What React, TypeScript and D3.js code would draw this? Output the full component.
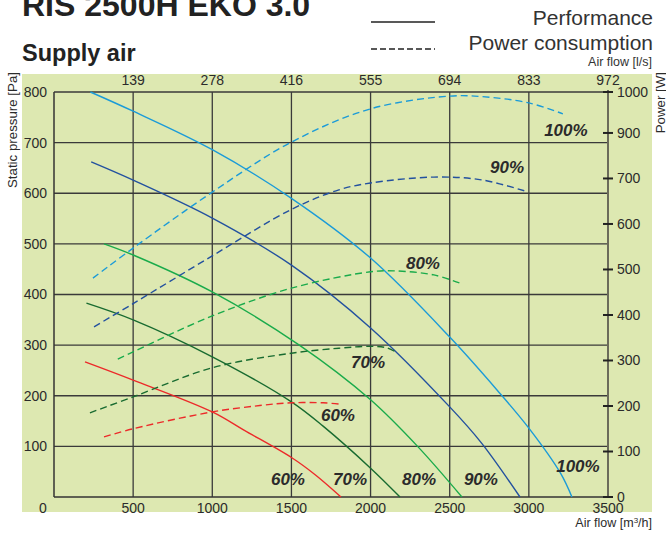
import * as d3 from "d3"

// fan performance curves: [airflow m3/h, static pressure Pa]
const speeds = ["60%", "70%", "80%", "90%", "100%"]
const colors = ["#ec2a2a", "#186b30", "#1aab4b", "#23519f", "#1b9bd8"]

const pressure60 = [[196, 267], [500, 231], [1000, 168], [1200, 132], [1500, 78], [1650, 44], [1813, 0]]
const pressure70 = [[205, 383], [500, 350], [1000, 277], [1500, 188], [1700, 140], [2000, 57], [2186, 0]]
const pressure80 = [[316, 500], [500, 478], [1000, 405], [1550, 300], [2000, 192], [2300, 99], [2577, 0]]
const pressure90 = [[235, 662], [500, 626], [1000, 551], [1500, 458], [2000, 334], [2500, 178], [2700, 107], [2944, 0]]
const pressure100 = [[230, 800], [500, 762], [1000, 686], [1500, 590], [2000, 472], [2500, 316], [2800, 211], [3000, 136], [3200, 47], [3272, 0]]

// power consumption: [airflow m3/h, power W]
const power60 = [[316, 132], [500, 150], [1000, 187], [1300, 201], [1500, 207], [1700, 207], [1806, 204]]
const power70 = [[227, 185], [500, 220], [1000, 284], [1500, 316], [1800, 327], [2000, 331], [2100, 328], [2173, 316]]
const power80 = [[403, 303], [500, 319], [1000, 398], [1500, 459], [2000, 495], [2150, 497], [2400, 488], [2565, 470]]
const power90 = [[253, 374], [500, 425], [1000, 530], [1500, 632], [1800, 675], [2000, 690], [2400, 703], [2700, 697], [2980, 672]]
const power100 = [[246, 481], [500, 547], [1000, 670], [1500, 780], [2000, 853], [2500, 881], [2700, 880], [3000, 866], [3215, 842]]

const pressureSeries = [pressure60, pressure70, pressure80, pressure90, pressure100]
const powerSeries = [power60, power70, power80, power90, power100]

// label anchors in data units
const pressureLabelAt = [[1478, 36], [1870, 36], [2306, 36], [2697, 36], [3310, 61]]
const powerLabelAt = [[1794, 180], [1984, 297], [2331, 514], [2862, 725], [3234, 807]]

const flowTicks = [500, 1000, 1500, 2000, 2500, 3000, 3500]
const flowLsLabels = ["139", "278", "416", "555", "694", "833", "972"]
const pressureTicks = [100, 200, 300, 400, 500, 600, 700, 800]
const powerTicks = [0, 100, 200, 300, 400, 500, 600, 700, 800, 890]
const powerTickLabels = ["0", "100", "200", "300", "400", "500", "600", "700", "900", "1000"]

const font = "'Liberation Sans', Arial, sans-serif"
const ink = "#2b2b2b"

export default function App() {
  const x = d3.scaleLinear().domain([0, 3500]).range([54, 608])
  const y = d3.scaleLinear().domain([0, 800]).range([497, 92])
  const yPow = d3.scaleLinear().domain([0, 890]).range([497, 92])

  const pLine = d3
    .line<number[]>()
    .x((d) => x(d[0]))
    .y((d) => y(d[1]))
    .curve(d3.curveCatmullRom.alpha(0.5))
  const wLine = d3
    .line<number[]>()
    .x((d) => x(d[0]))
    .y((d) => yPow(d[1]))
    .curve(d3.curveCatmullRom.alpha(0.5))

  const [x0, x1] = x.range()
  const [y0, y1] = y.range()

  return (
    <div style={{ position: "absolute", left: 0, top: 0 }}>
      <svg width={666} height={533} style={{ display: "block" }} fontFamily={font}>
        <rect x={0} y={0} width={666} height={533} fill="#fff" />
        <text x={22} y={16} fontSize={32} fontWeight="bold" fill="#222">RIS 2500H EKO 3.0</text>
        <text x={22} y={61} fontSize={23.5} fontWeight="bold" fill="#222">Supply air</text>

        {/* legend */}
        <line x1={371} x2={435} y1={22} y2={22} stroke="#222" strokeWidth={1.3} />
        <line x1={371} x2={435} y1={49} y2={49} stroke="#222" strokeWidth={1.3} strokeDasharray="6,3" />
        <text x={653} y={25} fontSize={21} textAnchor="end" fill="#333">Performance</text>
        <text x={653} y={50} fontSize={21} textAnchor="end" fill="#333">Power consumption</text>
        <text x={652} y={66} fontSize={12.5} textAnchor="end" fill="#333">Air flow [l/s]</text>

        <rect x={22} y={74} width={630} height={438} fill="#dde8b1" />

        {/* grid */}
        {pressureTicks.map((t) => (
          <line key={"h" + t} x1={x0} x2={x1} y1={y(t)} y2={y(t)} stroke="#3a3a3a" strokeWidth={1.3} />
        ))}
        {flowTicks.slice(0, -1).map((t) => (
          <line key={"v" + t} x1={x(t)} x2={x(t)} y1={y1} y2={y0} stroke="#3a3a3a" strokeWidth={1.3} />
        ))}
        <line x1={x0} x2={x0} y1={y1} y2={y0} stroke="#333" strokeWidth={1.5} />
        <line x1={x0} x2={x1} y1={y0} y2={y0} stroke="#333" strokeWidth={1.5} />
        <line x1={x1} x2={x1} y1={y1 - 2} y2={y0} stroke="#6b6b5a" strokeWidth={2} />

        {/* curves */}
        {pressureSeries.map((s, i) => (
          <path key={"p" + i} d={pLine(s) ?? ""} fill="none" stroke={colors[i]} strokeWidth={1.4} />
        ))}
        {powerSeries.map((s, i) => (
          <path key={"w" + i} d={wLine(s) ?? ""} fill="none" stroke={colors[i]} strokeWidth={1.4} strokeDasharray="7,4" />
        ))}

        {/* curve labels */}
        {pressureLabelAt.map((d, i) => (
          <text key={"pl" + i} x={x(d[0])} y={y(d[1])} dy="0.35em" textAnchor="middle" fontSize={17}
            fontWeight="bold" fontStyle="italic" fill={ink}>{speeds[i]}</text>
        ))}
        {powerLabelAt.map((d, i) => (
          <text key={"wl" + i} x={x(d[0])} y={yPow(d[1])} dy="0.35em" textAnchor="middle" fontSize={17}
            fontWeight="bold" fontStyle="italic" fill={ink}>{speeds[i]}</text>
        ))}

        {/* left axis */}
        {pressureTicks.map((t) => (
          <text key={"yl" + t} x={47} y={y(t)} dy="0.35em" textAnchor="end" fontSize={14} fill={ink}>{t}</text>
        ))}
        <text x={43} y={513} textAnchor="middle" fontSize={14} fill={ink}>0</text>
        <text transform="translate(17,72) rotate(-90)" textAnchor="end" fontSize={13.3} fill={ink}>Static pressure [Pa]</text>

        {/* bottom axis */}
        {flowTicks.map((t) => (
          <text key={"xl" + t} x={x(t)} y={513} textAnchor="middle" fontSize={14} fill={ink}>{t}</text>
        ))}
        <text x={652} y={527} textAnchor="end" fontSize={12.5} fill={ink}>
          Air flow [m<tspan dy={-4} fontSize={8}>3</tspan><tspan dy={4}>/h]</tspan>
        </text>

        {/* top axis l/s */}
        {flowTicks.map((t, i) => (
          <text key={"tl" + t} x={x(t)} y={85} textAnchor="middle" fontSize={14} fill={ink}>{flowLsLabels[i]}</text>
        ))}

        {/* right axis power */}
        {powerTicks.map((t, i) => (
          <g key={"r" + t}>
            <line x1={x1 - 5} x2={x1 + 5} y1={yPow(t)} y2={yPow(t)} stroke="#222" strokeWidth={2} />
            <text x={x1 + 9} y={yPow(t)} dy="0.35em" fontSize={14} fill={ink}>{powerTickLabels[i]}</text>
          </g>
        ))}
        <text transform="translate(665,72) rotate(-90)" textAnchor="end" fontSize={13.3} fill={ink}>Power [W]</text>
      </svg>
    </div>
  )
}
